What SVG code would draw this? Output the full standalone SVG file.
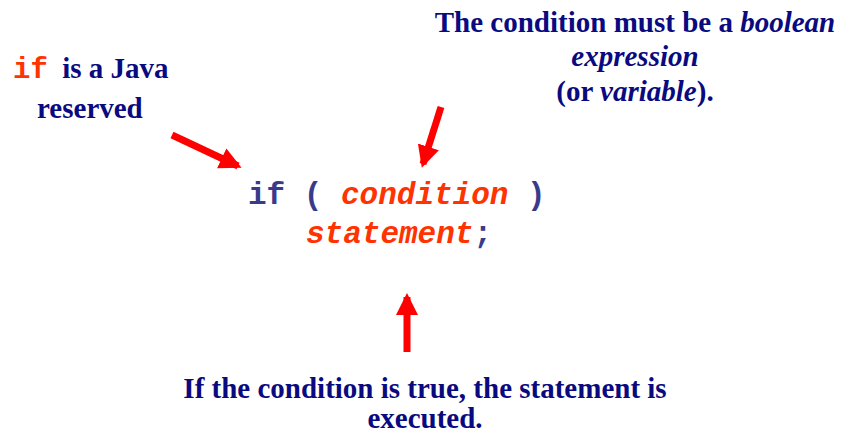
<svg xmlns="http://www.w3.org/2000/svg" width="841" height="433" viewBox="0 0 841 433">
<style>
.t{font-family:"Liberation Serif","Times New Roman",serif;font-weight:bold;font-size:29px;fill:#0a0a80}
.c{font-family:"Liberation Mono","Courier New",monospace;font-weight:bold;font-size:31px}
.kw{fill:#3a3a8c}
.rd{fill:#ff3300;font-style:italic}
.arr{stroke:#ff0000;stroke-width:7;fill:none;marker-end:url(#ah)}
</style>
<defs>
<marker id="ah" markerUnits="userSpaceOnUse" markerWidth="22" markerHeight="22" refX="18" refY="11" orient="auto" viewBox="0 0 22 22">
<path d="M0,0 L22,11 L0,22 Z" fill="#ff0000"/>
</marker>
</defs>
<rect width="841" height="433" fill="#ffffff"/>
<g id="note-reserved">
<text class="t" x="13" y="78" xml:space="preserve"><tspan class="c rd" style="font-style:normal;font-size:29px">if</tspan><tspan x="55"> is a Java</tspan></text>
<text class="t" x="37" y="118">reserved</text>
</g>
<g id="note-condition">
<text class="t" x="635" y="32" text-anchor="middle">The condition must be a <tspan font-style="italic">boolean</tspan></text>
<text class="t" x="635" y="66" text-anchor="middle" font-style="italic">expression</text>
<text class="t" x="635" y="101" text-anchor="middle">(or <tspan font-style="italic">variable</tspan>).</text>
</g>
<g id="code">
<text class="c kw" x="248" y="204">if ( <tspan class="rd">condition</tspan> )</text>
<text class="c" x="306" y="243"><tspan class="rd">statement</tspan><tspan class="kw">;</tspan></text>
</g>
<g id="note-true">
<text class="t" x="425" y="398" text-anchor="middle">If the condition is true, the statement is</text>
<text class="t" x="425" y="428" text-anchor="middle">executed.</text>
</g>
<g id="connectors">
<line class="arr" x1="172" y1="135" x2="238" y2="166"/>
<line class="arr" x1="441" y1="107" x2="423" y2="164"/>
<line class="arr" x1="407" y1="352" x2="407" y2="297"/>
</g>
</svg>
